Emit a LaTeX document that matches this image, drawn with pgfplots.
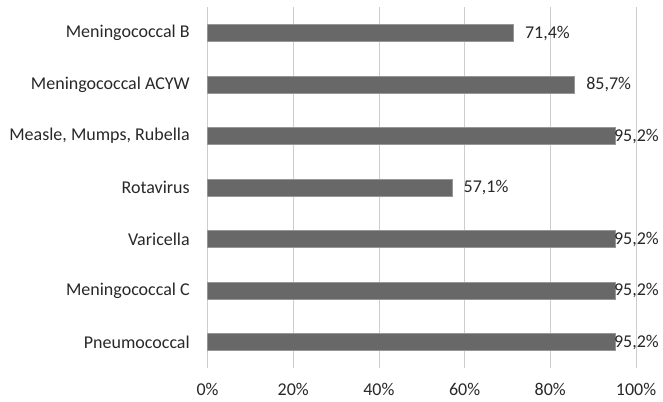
\documentclass[border=0pt]{standalone}
\usepackage{pgfplots}
\pgfplotsset{compat=1.18}
\usepackage{fontspec}
\setmainfont{Carlito}
\definecolor{barfill}{RGB}{104,104,104}
\definecolor{baredge}{RGB}{150,150,150}
\definecolor{gridc}{RGB}{205,205,205}
\definecolor{txt}{RGB}{40,40,40}
\begin{document}
\begin{tikzpicture}
\path[use as bounding box] (-207.5bp,-34.2bp) rectangle (455.5bp,367.8bp);
\begin{axis}[
    scale only axis,
    width=428.5bp, height=360.5bp,
    xbar, bar width=17bp, bar shift=0pt,
    xmin=0, xmax=100, ymin=-0.5, ymax=6.5,
    axis line style={draw=none},
    tick style={draw=none},
    xmajorgrids, major grid style={gridc, line width=0.8pt},
    xtick={0,20,...,100},
    xticklabels={0\%,20\%,40\%,60\%,80\%,100\%},
    ytick={0,...,6},
    yticklabels={Pneumococcal,Meningococcal C,Varicella,Rotavirus,{Measle, Mumps, Rubella},Meningococcal ACYW,Meningococcal B},
    font=\fontsize{18bp}{22bp}\selectfont,
    every tick label/.append style={text=txt},
    xticklabel style={yshift=-12bp},
    yticklabel style={xshift=-10bp},
    point meta=explicit symbolic,
    nodes near coords,
    every node near coord/.append style={anchor=west, text=txt, font=\fontsize{18bp}{22bp}\selectfont},
]
\addplot[fill=barfill, draw=baredge, line width=0.5pt,
    every node near coord/.append style={xshift=8bp}] coordinates {
    (71.4,6) [71,4\%]
    (85.7,5) [85,7\%]
    (57.1,3) [57,1\%]
};
\addplot[fill=barfill, draw=baredge, line width=0.5pt,
    every node near coord/.append style={xshift=-5bp}] coordinates {
    (95.2,4) [95,2\%]
    (95.2,2) [95,2\%]
    (95.2,1) [95,2\%]
    (95.2,0) [95,2\%]
};
\end{axis}
\end{tikzpicture}
\end{document}
